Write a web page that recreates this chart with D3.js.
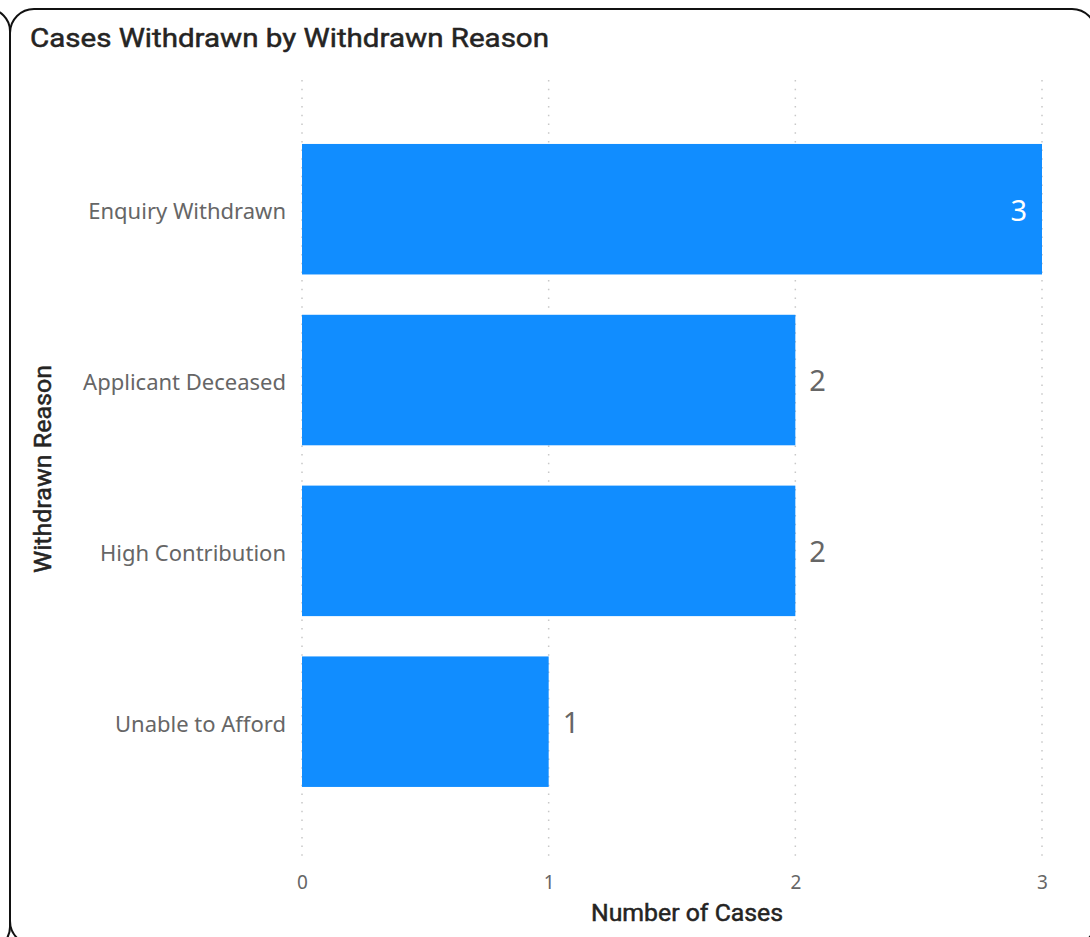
<!DOCTYPE html>
<html>
<head>
<meta charset="utf-8">
<script src="https://cdn.jsdelivr.net/npm/d3@7"></script>
<style>
  html, body { margin: 0; padding: 0; background: #fff; }
  svg { display: block; }
</style>
</head>
<body>
<svg id="chart" width="1090" height="937"></svg>
<script>
// Withdrawn reasons and their case counts
const reasons = ["Enquiry Withdrawn", "Applicant Deceased", "High Contribution", "Unable to Afford"];
const caseCounts = [3, 2, 2, 1];
const xTicks = [0, 1, 2, 3];

const title = "Cases Withdrawn by Withdrawn Reason";
const xTitle = "Number of Cases";
const yTitle = "Withdrawn Reason";

const svg = d3.select("#chart");

// card outlines (neighbouring card edge + this card)
svg.append("rect")
  .attr("x", -1100).attr("y", 9).attr("width", 1110).attr("height", 940)
  .attr("rx", 22).attr("fill", "none").attr("stroke", "#111").attr("stroke-width", 2);
svg.append("rect")
  .attr("x", 10).attr("y", 9).attr("width", 1086).attr("height", 936)
  .attr("rx", 24).attr("fill", "#fff").attr("stroke", "#111").attr("stroke-width", 2);

const x = d3.scaleLinear().domain([0, 3]).range([302, 1042]);
const y = d3.scaleBand().domain(reasons).range([123.8, 807.1]).paddingInner(0.236).paddingOuter(0.118);

// vertical dotted gridlines
svg.append("g").selectAll("line").data(xTicks).join("line")
  .attr("x1", d => x(d)).attr("x2", d => x(d))
  .attr("y1", 80).attr("y2", 862)
  .attr("stroke", "#c8c8c8").attr("stroke-width", 1.5)
  .attr("stroke-dasharray", "1.5,7.2");

// x axis tick labels
const xAxis = d3.axisBottom(x).tickValues(xTicks).tickSize(0).tickPadding(0).tickFormat(d3.format("d"));
const gx = svg.append("g").attr("transform", "translate(0,875)").call(xAxis);
gx.select(".domain").remove();
gx.attr("font-size", null).attr("font-family", null);
gx.selectAll(".tick text")
  .style("font-family", "'Noto Sans', 'Open Sans', sans-serif")
  .style("font-size", "19px").attr("fill", "#666").attr("dy", "0.71em");

// y axis category labels
const yAxis = d3.axisLeft(y).tickSize(0).tickPadding(0);
const gy = svg.append("g").attr("transform", "translate(286,3)").call(yAxis);
gy.select(".domain").remove();
gy.attr("font-size", null).attr("font-family", null);
gy.selectAll(".tick text")
  .style("font-family", "'Noto Sans', 'Open Sans', sans-serif")
  .style("font-size", "22px").attr("fill", "#666");

// bars
const rows = reasons.map((r, i) => ({ reason: r, value: caseCounts[i] }));
svg.append("g").selectAll("rect").data(rows).join("rect")
  .attr("x", x(0))
  .attr("y", d => y(d.reason))
  .attr("width", d => x(d.value) - x(0))
  .attr("height", y.bandwidth())
  .attr("fill", "#118DFF");

// value labels: inside the longest bar, outside the others
const maxVal = d3.max(caseCounts);
svg.append("g").selectAll("text").data(rows).join("text")
  .attr("x", d => d.value === maxVal ? x(d.value) - 15 : x(d.value) + 14)
  .attr("y", d => y(d.reason) + y.bandwidth() / 2 + 1)
  .attr("dy", "0.36em")
  .attr("text-anchor", d => d.value === maxVal ? "end" : "start")
  .style("font-family", "'Noto Sans', 'Open Sans', sans-serif")
  .style("font-size", "29px")
  .attr("fill", d => d.value === maxVal ? "#fff" : "#666")
  .text(d => d.value);

// titles (regular weight with a fine outline for a medium look)
function heading(sel) {
  return sel
    .style("font-family", "Roboto, 'DejaVu Sans', sans-serif")
    .attr("fill", "#252423").attr("stroke", "#252423").attr("stroke-width", 0.5)
    .attr("lengthAdjust", "spacingAndGlyphs");
}

svg.append("text")
  .attr("x", 30).attr("y", 47)
  .style("font-size", "26px")
  .attr("textLength", 519)
  .call(heading)
  .text(title);

svg.append("text")
  .attr("x", 687).attr("y", 921)
  .attr("text-anchor", "middle")
  .style("font-size", "24px")
  .attr("textLength", 192)
  .call(heading)
  .text(xTitle);

svg.append("text")
  .attr("transform", "translate(51,469) rotate(-90)")
  .attr("text-anchor", "middle")
  .style("font-size", "24px")
  .attr("textLength", 208)
  .call(heading)
  .text(yTitle);
</script>
</body>
</html>
